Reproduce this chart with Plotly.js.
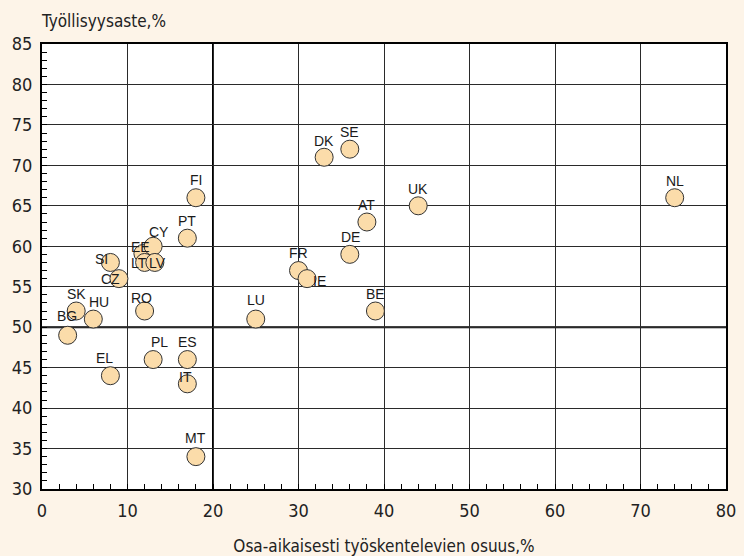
<!DOCTYPE html>
<html>
<head>
<meta charset="utf-8">
<script src="https://cdn.plot.ly/plotly-3.0.1.min.js"></script>
<style>html,body{margin:0;padding:0;background:#fdf4e8;overflow:hidden;}#chart{width:744px;height:556px;}</style>
</head>
<body>
<div id="chart"></div>
<script>
// ---- data ----
const countries  = ['FR','IE','BE','BG','CZ','DK','DE','EE','CY','LT','LV','EL','ES','IT','LU','HU','MT','NL','AT','PL','PT','RO','SI','SK','FI','SE','UK'];
const partTime   = [30, 31, 39, 3, 9, 33, 36, 11.8, 13, 12, 13.2, 8, 17, 17, 25, 6, 18, 74, 38, 13, 17, 12, 8, 4, 18, 36, 44];
const employment = [57, 56, 52, 49, 56, 71, 59, 59.1, 60, 58, 58, 44, 46, 43, 51, 51, 34, 66, 63, 46, 61, 52, 58, 52, 66, 72, 65];
const xTickVals = [0,10,20,30,40,50,60,70,80];
const yTickVals = [30,35,40,45,50,55,60,65,70,75,80,85];
const refX = 20, refY = 50;

// ---- label placement (styling, pixels) ----
const labelDx = [0, 12, 0, -1, -8, 0, 1, -2, 6, -6, 3, -6, 0, -2, 0, 6, 0, 0, 0, 6, 0, -3, -9, 0, 0, 0, 0];
const labelDy = [18, -2, 17, 19, 0, 16, 17, 7, 14, -1, -1, 18, 18, 7, 19, 17, 19, 17, 17, 18, 17, 13, 3, 17, 18, 17, 17];

const condFamily = 'Liberation Sans Narrow, DejaVu Sans Condensed, Roboto Condensed, Arial Narrow, sans-serif';
const tickFont = {family: condFamily, size: 18, color: '#222'};
const titleFont = {family: condFamily, size: 17, color: '#222'};
const labelFont = {family: 'Liberation Sans, Arial, sans-serif', size: 14, color: '#1a1a1a'};

const trace = {
  type: 'scatter', mode: 'markers',
  x: partTime, y: employment,
  marker: {size: 18, color: '#fbdcaa', line: {color: '#333', width: 1}},
  hoverinfo: 'skip', showlegend: false
};

const annotations = countries.map((c, i) => ({
  x: partTime[i], y: employment[i], xref: 'x', yref: 'y',
  text: c, showarrow: false, xshift: labelDx[i], yshift: labelDy[i],
  font: labelFont
}));

const layout = {
  width: 744, height: 556,
  paper_bgcolor: '#fdf4e8', plot_bgcolor: '#ffffff',
  margin: {l: 42, r: 18, t: 44, b: 67},
  title: {text: 'Työllisyysaste,%', font: titleFont, xref: 'paper', x: 0, xanchor: 'left', yref: 'container', y: 1 - 21/556, yanchor: 'middle'},
  xaxis: {
    range: [0, 80], tickvals: xTickVals, ticktext: xTickVals.map(String),
    showgrid: true, gridcolor: '#2a2a2a', gridwidth: 1,
    showline: true, linecolor: '#000', linewidth: 2, mirror: true,
    ticks: 'inside', ticklen: 5, tickcolor: '#000',
    minor: {dtick: 2, tick0: 0, ticks: 'inside', ticklen: 5, tickcolor: '#000', showgrid: false},
    zeroline: false, tickfont: tickFont, ticklabelstandoff: 4,
    title: {text: 'Osa-aikaisesti työskentelevien osuus,%', font: titleFont, standoff: 27}
  },
  yaxis: {
    range: [30, 85], tickvals: yTickVals, ticktext: yTickVals.map(String),
    showgrid: true, gridcolor: '#2a2a2a', gridwidth: 1,
    showline: true, linecolor: '#000', linewidth: 2, mirror: true,
    ticks: 'inside', ticklen: 5, tickcolor: '#000',
    minor: {dtick: 1, tick0: 30, ticks: 'inside', ticklen: 5, tickcolor: '#000', showgrid: false},
    zeroline: false, tickfont: tickFont, ticklabelstandoff: 4
  },
  shapes: [
    {type: 'line', xref: 'x', yref: 'paper', x0: refX, x1: refX, y0: 0, y1: 1, line: {color: '#000', width: 2}, layer: 'below'},
    {type: 'line', xref: 'paper', yref: 'y', x0: 0, x1: 1, y0: refY, y1: refY, line: {color: '#000', width: 2}, layer: 'below'}
  ],
  annotations: annotations
};

Plotly.newPlot('chart', [trace], layout, {displayModeBar: false, staticPlot: true});
</script>
</body>
</html>
